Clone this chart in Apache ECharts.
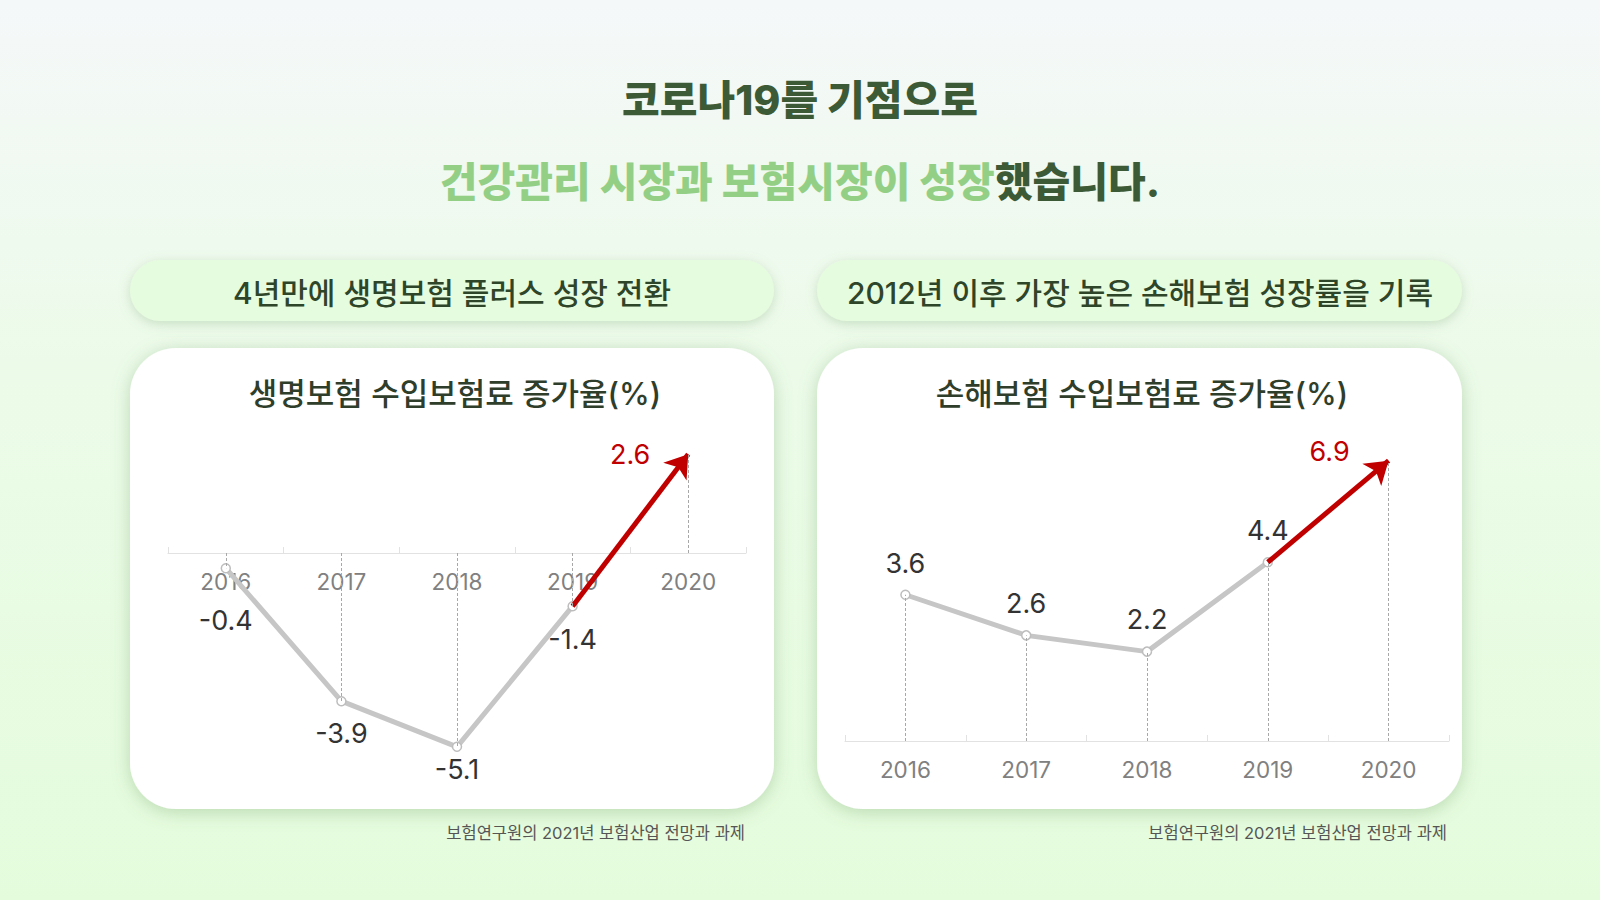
<!DOCTYPE html>
<html>
    <head>
        <meta charset="utf-8">
        <title>코로나19 보험시장 성장</title>
        <script src="https://cdn.jsdelivr.net/npm/echarts@6.0.0/dist/echarts.min.js"></script>
        <style>
            body { margin: 0; }
            #main { width: 1600px; height: 900px; }
        </style>
    </head>
    <body>
        <div id="main"></div>
    </body>
    <script type="text/javascript">
        // 데이터
        var years = ['2016', '2017', '2018', '2019', '2020'];
        var lifeGrowth = [-0.4, -3.9, -5.1, -1.4, 2.6];      // 생명보험 수입보험료 증가율
        var nonLifeGrowth = [3.6, 2.6, 2.2, 4.4, 6.9];       // 손해보험 수입보험료 증가율

        var headLine1 = '코로나19를 기점으로';
        var headLine2a = '건강관리 시장과 보험시장이 성장';
        var headLine2b = '했습니다.';
        var pillTexts = ['4년만에 생명보험 플러스 성장 전환', '2012년 이후 가장 높은 손해보험 성장률을 기록'];
        var chartTitles = ['생명보험 수입보험료 증가율(%)', '손해보험 수입보험료 증가율(%)'];
        var sourceText = '보험연구원의 2021년 보험산업 전망과 과제';

        var FONT = "Inter, 'Noto Sans CJK KR', sans-serif";
        var DARK = '#3d5a36';
        var RED = '#c00000';

        // 그리드 / y축 범위
        var grids = [
            { left: 168, top: 420, width: 578, height: 361 },
            { left: 845, top: 416, width: 604, height: 325 }
        ];
        var yRanges = [[-6, 3.5], [0, 8]];

        var myChart = echarts.init(document.getElementById('main'), null, { renderer: 'svg' });

        function textEl(txt, x, y, size, weight, color, align) {
            return {
                type: 'text', z: -5,
                style: {
                    text: txt, x: x, y: y,
                    textAlign: align || 'center', textVerticalAlign: 'middle',
                    fontSize: size, fontWeight: weight, fontFamily: FONT, fill: color
                }
            };
        }

        function boxEl(x, y, w, h, r, fill, shadow, blur) {
            return {
                type: 'rect', z: -10,
                shape: { x: x, y: y, width: w, height: h, r: r },
                style: { fill: fill, shadowBlur: blur, shadowColor: shadow, shadowOffsetY: 3 }
            };
        }

        function xAxisOf(idx) {
            var r = yRanges[idx];
            // x축을 0 위치로 올림
            var zeroOffset = -(0 - r[0]) / (r[1] - r[0]) * grids[idx].height;
            return {
                gridIndex: idx,
                type: 'category',
                data: years,
                boundaryGap: true,
                offset: zeroOffset,
                axisLine: { onZero: false, lineStyle: { color: '#e2e2e2', width: 1 } },
                axisTick: { show: true, inside: true, length: 6, lineStyle: { color: '#e2e2e2' } },
                axisLabel: { color: '#808080', fontSize: 22.5, fontFamily: FONT, margin: 17 },
                splitLine: { show: false }
            };
        }

        // 0 기준선에서 각 점까지 점선
        function dropLines(vals) {
            return {
                silent: true,
                symbol: 'none',
                animation: false,
                label: { show: false },
                lineStyle: { color: '#a8a8a8', width: 1, type: [3, 2] },
                data: years.map(function (y, i) {
                    return [{ coord: [y, 0] }, { coord: [y, vals[i]] }];
                })
            };
        }

        // 2019 -> 2020 빨간 화살표
        function redSeries(idx, vals, labelOffset) {
            return {
                type: 'line',
                xAxisIndex: idx, yAxisIndex: idx,
                data: vals.map(function (v, i) {
                    if (i < 3) return null;
                    return {
                        value: v,
                        label: { show: i === 4, position: 'inside', offset: labelOffset }
                    };
                }),
                symbol: 'circle',
                symbolSize: 2,
                itemStyle: { color: 'rgba(0,0,0,0)' },
                lineStyle: { width: 0 },
                label: { color: RED, fontSize: 27, fontFamily: FONT },
                markLine: {
                    silent: true,
                    animation: false,
                    symbol: ['none', 'arrow'],
                    symbolSize: 22,
                    label: { show: false },
                    lineStyle: { color: RED, width: 5, type: 'solid' },
                    data: [[{ coord: [years[3], vals[3]] }, { coord: [years[4], vals[4]] }]]
                },
                z: 3
            };
        }

        function graySeries(idx, vals, pos, dists) {
            return {
                type: 'line',
                xAxisIndex: idx, yAxisIndex: idx,
                data: vals.slice(0, 4).map(function (v, i) {
                    return { value: v, label: { distance: dists[i] } };
                }),
                symbol: 'circle',
                symbolSize: 9,
                itemStyle: { color: '#ffffff', borderColor: '#bdbdbd', borderWidth: 1.5 },
                lineStyle: { color: '#c6c6c6', width: 5 },
                label: { show: true, position: pos, color: '#333333', fontSize: 27, fontFamily: FONT },
                markLine: dropLines(vals),
                z: 4
            };
        }

        var option = {
            backgroundColor: {
                type: 'linear', x: 0, y: 0, x2: 0, y2: 1,
                colorStops: [
                    { offset: 0, color: '#f5f8f9' },
                    { offset: 0.4, color: '#ecfbe9' },
                    { offset: 1, color: '#e4fcdc' }
                ]
            },
            animation: false,
            graphic: [
                boxEl(130, 260, 644, 61, 30.5, '#e6fcdf', 'rgba(110,160,100,0.30)', 12),
                boxEl(817, 260, 645, 61, 30.5, '#e6fcdf', 'rgba(110,160,100,0.30)', 12),
                boxEl(130, 348, 644, 461, 46, '#ffffff', 'rgba(100,150,90,0.35)', 18),
                boxEl(817, 348, 645, 461, 46, '#ffffff', 'rgba(100,150,90,0.35)', 18),
                textEl(headLine1, 800, 100, 41, 800, DARK),
                {
                    type: 'text', z: -5,
                    style: {
                        text: '{g|' + headLine2a + '}{d|' + headLine2b + '}',
                        x: 800, y: 182, textAlign: 'center', textVerticalAlign: 'middle',
                        fontSize: 41, fontWeight: 800, fontFamily: FONT,
                        rich: {
                            g: { fill: '#94cf86', fontSize: 41, fontWeight: 800, fontFamily: FONT },
                            d: { fill: DARK, fontSize: 41, fontWeight: 800, fontFamily: FONT }
                        }
                    }
                },
                textEl(pillTexts[0], 452, 293, 30, 500, '#2f4529'),
                textEl(pillTexts[1], 1140, 293, 30, 500, '#2f4529'),
                textEl(chartTitles[0], 455, 393, 31, 500, '#2f3e2b'),
                textEl(chartTitles[1], 1142, 393, 31, 500, '#2f3e2b'),
                textEl(sourceText, 745, 833, 16.5, 'normal', '#555555', 'right'),
                textEl(sourceText, 1447, 833, 16.5, 'normal', '#555555', 'right')
            ],
            grid: grids,
            xAxis: [xAxisOf(0), xAxisOf(1)],
            yAxis: [
                { gridIndex: 0, type: 'value', min: yRanges[0][0], max: yRanges[0][1], show: false },
                { gridIndex: 1, type: 'value', min: yRanges[1][0], max: yRanges[1][1], show: false }
            ],
            series: [
                redSeries(0, lifeGrowth, [-58, 0]),
                graySeries(0, lifeGrowth, 'bottom', [34, 14, 4, 15]),
                redSeries(1, nonLifeGrowth, [-59, -9]),
                graySeries(1, nonLifeGrowth, 'top', [13, 13, 13, 13])
            ]
        };

        myChart.setOption(option);
    </script>
</html>
